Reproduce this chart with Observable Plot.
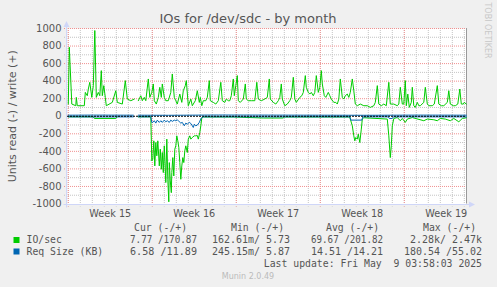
<!DOCTYPE html>
<html><head><meta charset="utf-8">
<script src="https://cdn.jsdelivr.net/npm/d3@7"></script>
<script src="https://cdn.jsdelivr.net/npm/@observablehq/plot@0.6"></script>
<style>
html,body{margin:0;padding:0;background:#F0F0F0;}
#chart{width:497px;height:287px;position:relative;}
svg text{white-space:pre;}
</style></head><body><div id="chart"></div>
<script>
// Times are hours since 2025-04-06 00:00 UTC
const T0 = Date.UTC(2025, 3, 6);
const domainHours = [-1.6, 796.4];

// IO/sec write (+)
const ioWriteH = [0,2,7,15,16,18,32,34,38,40,43,47,50,53,56,60,63,66,68,71,74,76,88,95,98,108,114,118,125,132,135,140,145,148,152,155,160,163,167,170,172,176,180,183,186,188,192,195,200,205,208,212,215,218,223,227,230,234,236,240,245,248,254,258,262,264,267,270,275,278,282,284,290,295,300,305,308,313,316,320,323,326,330,332,335,338,340,344,350,354,356,360,366,373,377,380,386,393,398,402,404,410,415,420,423,426,428,433,438,443,446,450,453,456,463,467,470,474,476,480,483,486,490,493,496,500,503,506,508,512,515,520,523,526,531,535,538,541,544,548,551,554,558,561,564,568,571,574,578,584,591,598,604,611,614,618,621,626,631,636,641,644,651,658,661,664,668,671,674,676,679,682,686,688,691,694,698,701,704,711,714,718,721,728,732,738,741,746,751,758,761,764,770,774,779,783,786,790,792,796];
const ioWriteV = [139,787,139,120,215,120,120,272,234,310,387,215,349,977,215,272,234,520,234,349,215,120,158,291,158,139,406,196,177,196,NaN,177,234,177,215,177,425,215,272,368,177,139,215,330,215,368,215,177,177,272,482,215,177,139,253,158,291,349,406,120,196,120,177,291,158,215,120,177,177,215,406,177,158,139,177,387,177,158,196,177,177,234,425,234,349,463,177,158,196,368,196,177,177,177,387,196,177,196,215,425,196,158,139,177,215,368,196,120,139,177,215,444,196,158,215,234,272,463,330,272,253,272,234,272,463,272,330,520,368,234,215,272,234,196,158,158,139,196,425,215,196,234,253,215,272,425,291,139,120,139,120,120,101,120,158,349,139,120,139,120,387,139,139,120,139,330,139,139,406,120,253,101,158,330,120,101,158,120,120,158,330,139,120,120,139,349,139,120,120,158,291,139,120,120,139,310,139,139,158,139];

// IO/sec read (-), stored as magnitudes
const ioReadH = [0,28,50,52,95,98,135,140,165,167,169,171,173,175,177,179,182,184,186,188,190,192,195,197,199,201,202,204,206,207,209,211,213,215,217,219,221,223,225,227,229,231,233,235,238,240,243,245,248,252,255,258,260,263,265,267,270,330,390,430,432,500,563,564,568,571,573,575,578,580,583,586,588,591,638,641,644,646,648,651,658,664,668,674,678,688,711,718,731,738,744,754,764,771,781,788,796];
const ioReadV = [6,6,6,25,25,6,NaN,6,6,509,490,280,566,299,451,280,566,375,604,413,642,337,756,261,718,975,528,737,871,642,471,680,375,337,223,280,356,528,718,566,471,528,394,337,413,261,223,261,242,223,223,220,261,185,110,20,8,8,20,20,8,8,8,32,109,223,280,242,261,204,299,147,32,17,32,223,471,337,109,25,15,51,25,70,32,15,51,32,40,51,25,32,51,25,63,25,17];

// Req Size (KB) read (-), stored as magnitudes
const reqReadH = [0,60,130,135,140,165,167,169,172,175,178,182,185,188,192,195,198,202,205,208,212,215,218,222,225,228,232,235,238,242,245,248,250,252,255,258,262,265,267,270,400,563,565,587,589,640,642,648,650,796];
const reqReadV = [7,8,7,NaN,7,7,70,70,51,78,44,70,51,70,44,63,51,70,44,59,44,51,40,63,78,70,109,78,90,70,82,109,128,90,109,101,70,32,13,7,7,7,44,44,7,7,25,25,7,7];

// Req Size (KB) write (+)
const reqWriteH = [0,50,130,135,140,200,300,400,500,600,700,796];
const reqWriteV = [12,13,12,NaN,12,11,14,13,12,11,13,12];

// Axis labels
const weekLabels = ["Week 15", "Week 16", "Week 17", "Week 18", "Week 19"];
const weekMidH = [84, 252, 420, 588, 756];
const yTicks = [-1000,-800,-600,-400,-200,0,200,400,600,800,1000];
const yMinorTicks = [-900,-700,-500,-300,-100,100,300,500,700,900];

// Legend
const legendHeaders = ["Cur (-/+)", "Min (-/+)", "Avg (-/+)", "Max (-/+)"];
const legendSeries = ["IO/sec", "Req Size (KB)"];
const legendColors = ["#00CC00", "#0066B3"];
const ioStats = ["7.77 /170.87", "162.61m/ 5.73", "69.67 /201.82", "2.28k/ 2.47k"];
const reqStats = ["6.58 /11.89", "245.15m/ 5.87", "14.51 /14.21", "180.54 /55.02"];
const lastUpdate = "Last update: Fri May  9 03:58:03 2025";

const toDate = h => new Date(T0 + h * 3600e3);
const mk = (H, V) => H.map((h, i) => ({t: toDate(h), v: V[i]}));
const ioWrite = mk(ioWriteH, ioWriteV);
const ioRead = mk(ioReadH, ioReadV);
const reqRead = mk(reqReadH, reqReadV);
const reqWrite = mk(reqWriteH, reqWriteV);
const x0 = toDate(domainHours[0]), x1 = toDate(domainHours[1]);
const weekMid = weekMidH.map(toDate);
const days = d3.utcDay.range(x0, x1);
const sundays = d3.utcSunday.range(x0, x1);

const minorColor = "#c4c4c4";
const majorColor = "#f09090";

const chart = Plot.plot({
  width: 497, height: 287,
  marginLeft: 67, marginRight: 31, marginTop: 28, marginBottom: 83.5,
  style: {background: "#F0F0F0", fontFamily: "DejaVu Sans", fontSize: "10px", color: "#555", overflow: "visible"},
  x: {type: "utc", domain: [x0, x1]},
  y: {domain: [-1000, 1000]},
  marks: [
    Plot.frame({fill: "#FFFFFF", stroke: null}),
    Plot.ruleX(days, {stroke: minorColor, strokeDasharray: "1,1", insetBottom: -3}),
    Plot.ruleY(yMinorTicks, {stroke: minorColor, strokeDasharray: "1,1", insetLeft: -3}),
    Plot.ruleX(sundays, {stroke: majorColor, strokeDasharray: "1,1", insetBottom: -3}),
    Plot.ruleY(yTicks.filter(d => d !== 0 && d !== -1000), {stroke: majorColor, strokeDasharray: "1,1", insetLeft: -3}),
    Plot.ruleX([x1], {stroke: "#999"}),
    Plot.line(ioWrite, {x: "t", y: "v", stroke: "#00CC00", strokeWidth: 1}),
    Plot.line(ioRead, {x: "t", y: d => -d.v, stroke: "#00CC00", strokeWidth: 1}),
    Plot.line(reqWrite, {x: "t", y: "v", stroke: "#0066B3", strokeWidth: 1}),
    Plot.line(reqRead, {x: "t", y: d => -d.v, stroke: "#0066B3", strokeWidth: 1}),
    Plot.ruleY([0], {stroke: "#000", strokeDasharray: "2,1"}),
    Plot.axisY(yTicks, {tickSize: 0, tickPadding: 6, tickFormat: d => String(d), label: null, fontSize: 10, color: "#555"}),
    Plot.axisX(weekMid, {tickSize: 0, tickPadding: 6, tickFormat: d => weekLabels[weekMid.findIndex(w => +w === +d)], label: null, fontSize: 9.7, color: "#555"})
  ]
});
document.getElementById("chart").appendChild(chart);

const svg = d3.select(chart);
const sx = chart.scale("x"), sy = chart.scale("y");
const axL = Math.round(sx.apply(x0)) - 0.5;
const axTop = sy.apply(1000), axBot = Math.round(sy.apply(-1000)) + 0.5;
const axR = sx.apply(x1);
const axisColor = "#CFD6F8";
const g = svg.append("g");
g.append("line").attr("x1", axL).attr("x2", axL).attr("y1", axBot + 3).attr("y2", axTop - 5).attr("stroke", axisColor);
g.append("line").attr("x1", axL - 3).attr("x2", axR + 4).attr("y1", axBot).attr("y2", axBot).attr("stroke", axisColor);
g.append("path").attr("d", `M${axL - 3},${axTop - 1}L${axL + 3},${axTop - 1}L${axL},${axTop - 7}Z`).attr("fill", axisColor);
g.append("path").attr("d", `M${axR + 3},${axBot - 3}L${axR + 3},${axBot + 3}L${axR + 9},${axBot}Z`).attr("fill", axisColor);

g.append("text").attr("x", 248).attr("y", 23).attr("text-anchor", "middle")
  .attr("font-family", "DejaVu Sans").attr("font-size", 13).attr("fill", "#555")
  .text("IOs for /dev/sdc - by month");
g.append("text").attr("transform", `translate(16,${(axTop + axBot) / 2}) rotate(-90)`).attr("text-anchor", "middle")
  .attr("font-family", "DejaVu Sans").attr("font-size", 11).attr("fill", "#555")
  .text("Units read (-) / write (+)");
g.append("text").attr("transform", "translate(485,7) rotate(90)")
  .attr("font-family", "DejaVu Sans").attr("font-size", 8).attr("fill", "#c8c8c8")
  .text("RRDTOOL / TOBI OETIKER");

const mono = (x, y, s, anchor) => g.append("text").attr("x", x).attr("y", y)
  .attr("text-anchor", anchor || "start").attr("font-family", "DejaVu Sans Mono")
  .attr("font-size", 9.8).attr("fill", "#555").attr("xml:space", "preserve").text(s);
const headerX = [134, 231, 326, 423];
legendHeaders.forEach((h, i) => mono(headerX[i], 230.5, h));
const rowY = [243, 254.5];
const colStart = [[130, 212, 311, 410], [130, 212, 311, 404]];
const colEnd = [197, 290, 383, 482];
const stats = [ioStats, reqStats];
legendSeries.forEach((name, r) => {
  g.append("rect").attr("x", 13.5).attr("y", rowY[r] - 6).attr("width", 6).attr("height", 6).attr("fill", legendColors[r]);
  mono(26.5, rowY[r], name);
  for (let c = 0; c < 4; c++) {
    mono(colStart[r][c], rowY[r], stats[r][c])
      .attr("textLength", colEnd[c] - colStart[r][c]).attr("lengthAdjust", "spacingAndGlyphs");
  }
});
mono(482, 267, lastUpdate, "end");
g.append("text").attr("x", 248).attr("y", 279).attr("text-anchor", "middle")
  .attr("font-family", "DejaVu Sans").attr("font-size", 8).attr("fill", "#bbb").text("Munin 2.0.49");
</script>
</body></html>
